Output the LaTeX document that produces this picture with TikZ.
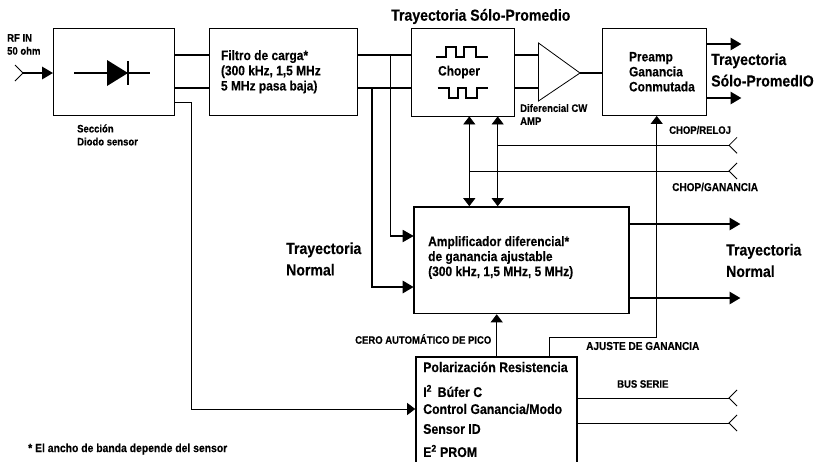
\documentclass[tikz,border=0pt]{standalone}
\usepackage{fontspec}
\setmainfont{Liberation Sans}[FakeStretch=0.88,BoldFeatures={FakeBold=0.25}]
\usetikzlibrary{arrows.meta,positioning,calc}

\begin{document}
\begin{tikzpicture}[
      x=1pt, y=-1pt,
      block/.style  = {rectangle, draw=black, line width=0.8pt, inner sep=0pt,
                       font=\bfseries\fontsize{13.6}{15}\selectfont},
      heavy/.style  = {block, line width=1.6pt},
      lbl/.style    = {inner sep=0pt, align=left, anchor=west, font=\bfseries\fontsize{13.6}{15}\selectfont},
      polarlbl/.style = {lbl, font=\bfseries\fontsize{14}{15}\selectfont},
      path/.style   = {lbl, font=\bfseries\fontsize{16}{21.5}\selectfont},
      small/.style  = {lbl, font=\bfseries\fontsize{10.8}{13}\selectfont},
      wide/.style   = {lbl, font=\bfseries\fontsize{11.4}{13}\selectfont},
      bus/.style    = {line width=2.8pt},
      busarrow/.style = {bus, -{Triangle[length=11pt,width=12pt]}, shorten >=-0.5pt},
      wire/.style   = {line width=0.8pt},
      wirearrow/.style = {wire, -{Triangle[length=8pt,width=12pt]}},
      twoway/.style = {wire, {Triangle[length=8pt,width=12pt]}-{Triangle[length=8pt,width=12pt]}},
      jack/.style   = {wire}
    ]
    \useasboundingbox (0,0) rectangle (818,461);

    % blocks
    \node[block, minimum width=121.5pt, minimum height=87.5pt] (sensor) at (113.75,71.75) {};
    \node[block, minimum width=148pt, minimum height=87.5pt, align=left] (filtro) at (283.5,71.75)
      {\parbox{125pt}{\baselineskip=15.2pt Filtro de carga*\\(300 kHz, 1,5 MHz\\5 MHz pasa baja)}};
    \node[block, minimum width=103pt, minimum height=88pt] (choper) at (463,72) {};
    \node[block, minimum width=104pt, minimum height=87.5pt] (preamp) at (654,71.75)
      {\parbox{50pt}{\baselineskip=15pt Preamp\\Ganancia\\Conmutada}};
    \node[heavy, minimum width=215pt, minimum height=106.5pt] (amp) at (521.5,260.25) {};
    \node[heavy, minimum width=161pt, minimum height=106pt] (polar) at (496.5,410) {};

    % differential amplifier
    \coordinate (difin) at (538.5,73);
    \coordinate (difout) at (580,73);
    \draw[wire] (538.5,43) -- (difout) -- (538.5,101) -- cycle;

    % diode
    \coordinate (ya) at (0,55);
    \coordinate (yb) at (0,88);
    \draw[line width=2pt] (74,73) -- (150,73);
    \fill (107,60) -- (128,73) -- (107,86) -- cycle;
    \draw[line width=2.6pt] (128,61) -- (128,85);

    % chopper waves
    \draw[line width=2pt] (436,57) -- (446,57) -- (446,46.7) -- (456,46.7) -- (456,57) -- (464,57)
      -- (464,46.7) -- (476,46.7) -- (476,57) -- (488,57);
    \draw[line width=2pt] (437.5,88) -- (448.5,88) -- (448.5,98) -- (458,98) -- (458,88) -- (465.5,88)
      -- (465.5,98) -- (476.5,98) -- (476.5,88) -- (488,88);

    % labels
    \node[small] (rfin) at (7,44.5) {RF IN\\50 ohm};
    \node[small] (seccion) at (77,135) {\baselineskip=16pt Sección\\Diodo sensor};
    \node[path] (tsolo) at (391,16.5) {Trayectoria Sólo-Promedio};
    \node[lbl, anchor=center] (chopertxt) at (459,72) {Choper};
    \node[small] (difcw) at (520,114.5) {Diferencial CW\\AMP};
    \node[path] (tsolor) at (711,70) {Trayectoria\\Sólo-PromedIO};
    \node[small] (chopreloj) at (669,130) {CHOP/RELOJ};
    \node[wide] (chopgan) at (672,187) {CHOP/GANANCIA};
    \node[path] (tnorml) at (286,259) {Trayectoria\\Normal};
    \node[path] (tnormr) at (726,260.5) {Trayectoria\\Normal};
    \node[lbl, anchor=north west] (amptxt) at (428,236)
      {\baselineskip=15pt Amplificador diferencial*\\de ganancia ajustable\\(300 kHz, 1,5 MHz, 5 MHz)};
    \node[small] (cero) at (355,339) {CERO AUTOMÁTICO DE PICO};
    \node[wide] (ajuste) at (586,346) {AJUSTE DE GANANCIA};
    \node[small] (busserie) at (617,384) {BUS SERIE};
    \node[polarlbl] (p1) at (423,367) {Polarización Resistencia};
    \node[polarlbl] (p2) at (423,391) {I\textsuperscript{2}\, Búfer C};
    \node[polarlbl] (p3) at (423,409) {Control Ganancia/Modo};
    \node[polarlbl] (p4) at (423,429) {Sensor ID};
    \node[polarlbl] (p5) at (423,451) {E\textsuperscript{2} PROM};
    \node[wide, font=\bfseries\fontsize{11.8}{13}\selectfont] (nota) at (28,449) {* El ancho de banda depende del sensor};

    % free ends
    \coordinate (rfend) at (23,73);
    \coordinate (relojend) at (729,145.3);
    \coordinate (ganend) at (729,171);
    \coordinate (serieA) at (729,398);
    \coordinate (serieB) at (729,423);

    % thick paths
    \draw[bus] (sensor.east |- ya) -- (filtro.west |- ya);
    \draw[bus] (sensor.east |- yb) -- (filtro.west |- yb);
    \draw[bus] (filtro.east |- ya) -- (choper.west |- ya);
    \draw[bus] (filtro.east |- yb) -- (choper.west |- yb);
    \draw[bus] (choper.east |- ya) -- (difin |- ya);
    \draw[bus] (choper.east |- yb) -- (difin |- yb);
    \draw[bus] (difout) -- (preamp.west |- difout);
    \draw[busarrow] (rfend) -- (sensor.west |- rfend);
    \draw[busarrow, line width=1.8pt] (390.5,55) |- (amp.west |- 0,236);
    \draw[busarrow] (372,88) |- (amp.west |- 0,287);
    \draw[busarrow] (preamp.east |- 0,44) -- (741,44);
    \draw[busarrow] (preamp.east |- 0,98) -- (741,98);
    \draw[busarrow] (amp.east |- 0,224) -- (740,224);
    \draw[busarrow] (amp.east |- 0,298) -- (740,298);

    % thin paths
    \draw[twoway] (choper.south -| 469.3,0) -- (amp.north -| 469.3,0);
    \draw[twoway] (choper.south -| 497.7,0) -- (amp.north -| 497.7,0);
    \draw[wire] (497.7,145.3) -- (relojend);
    \draw[wire] (469.3,171) -- (ganend);
    \draw[wirearrow] (polar.north -| 496.7,0) -- (amp.south -| 496.7,0);
    \draw[wirearrow] (polar.north -| 549.3,0) |- (656.7,337) -- (preamp.south -| 656.7,0);
    \draw[wirearrow] (sensor.east |- 0,102) -- (191.5,102) |- (polar.west |- 0,409);
    \draw[wire] (polar.east |- serieA) -- (serieA);
    \draw[wire] (polar.east |- serieB) -- (serieB);

    % connector jacks
    \draw[line width=1pt] (15,65) -- (rfend) -- (15,81);
    \foreach \jackend in {relojend,ganend,serieA,serieB}
      \draw[jack] ($(\jackend)+(8,-8)$) -- (\jackend) -- ($(\jackend)+(8,8)$);
  \end{tikzpicture}
\end{document}
